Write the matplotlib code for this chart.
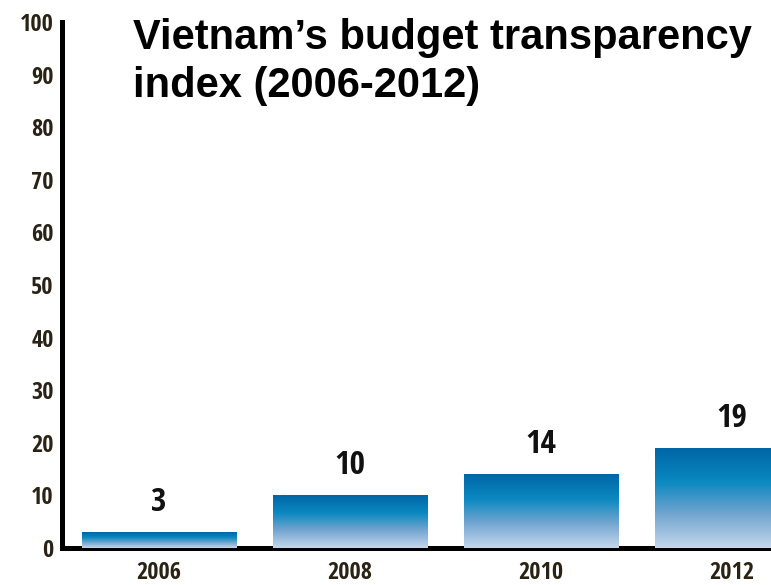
import numpy as np
import matplotlib.pyplot as plt
from matplotlib.colors import LinearSegmentedColormap

years = ["2006", "2008", "2010", "2012"]
scores = [3, 10, 14, 19]
y_ticks = [0, 10, 20, 30, 40, 50, 60, 70, 80, 90, 100]

title = "Vietnam\u2019s budget transparency\nindex (2006-2012)"
narrow = ["Open Sans Condensed", "DejaVu Sans"]
label_color = "#2a2214"

fig = plt.figure(figsize=(7.71, 5.85), dpi=100)
ax = fig.add_axes([0.0804, 0.0632, 0.9196, 0.8992])

x = np.arange(len(years))
bars = ax.bar(x, scores, width=0.81, color="none", zorder=2)

# vertical gradient: dark blue top -> light blue bottom
cmap = LinearSegmentedColormap.from_list(
    "grad", ["#c4d7ed", "#74a6d0", "#0a88c0", "#0066a6"])
grad = np.linspace(0, 1, 256).reshape(-1, 1)
for b in bars:
    x0, y0 = b.get_x(), b.get_y()
    w, h = b.get_width(), b.get_height()
    im = ax.imshow(grad, cmap=cmap, origin="lower", aspect="auto",
                   extent=[x0, x0 + w, y0, y0 + h], zorder=2)
    im.set_clip_path(b)

for xi, v in zip(x, scores):
    ax.text(xi, v + 5.7, str(v), ha="center", va="center", fontsize=24,
            fontweight="bold", fontstretch="condensed", family=narrow,
            color="#111111", zorder=3)

ax.set_xlim(-0.508, 3.204)
ax.set_ylim(0, 100)
ax.set_yticks(y_ticks)
ax.set_yticklabels([str(t) for t in y_ticks], family=narrow,
                   fontweight="bold", fontstretch="condensed", fontsize=17.5,
                   color=label_color)
ax.set_xticks(x)
ax.set_xticklabels(years, family=narrow, fontweight="bold",
                   fontstretch="condensed", fontsize=17.5, color=label_color)
ax.tick_params(axis="both", length=0)
ax.tick_params(axis="y", pad=6)
ax.tick_params(axis="x", pad=9)

for s in ["top", "right"]:
    ax.spines[s].set_visible(False)
ax.spines["left"].set_linewidth(3.6)
ax.spines["bottom"].set_linewidth(3.6)
ax.spines["left"].set_zorder(1)
ax.spines["bottom"].set_zorder(1)
ax.set_facecolor("none")

fig.text(0.172, 0.970, title, ha="left", va="top", fontsize=30,
         fontweight="bold", family=["Liberation Sans", "DejaVu Sans"],
         color="#000000", linespacing=1.28)

fig.savefig("out.png", dpi=100)
